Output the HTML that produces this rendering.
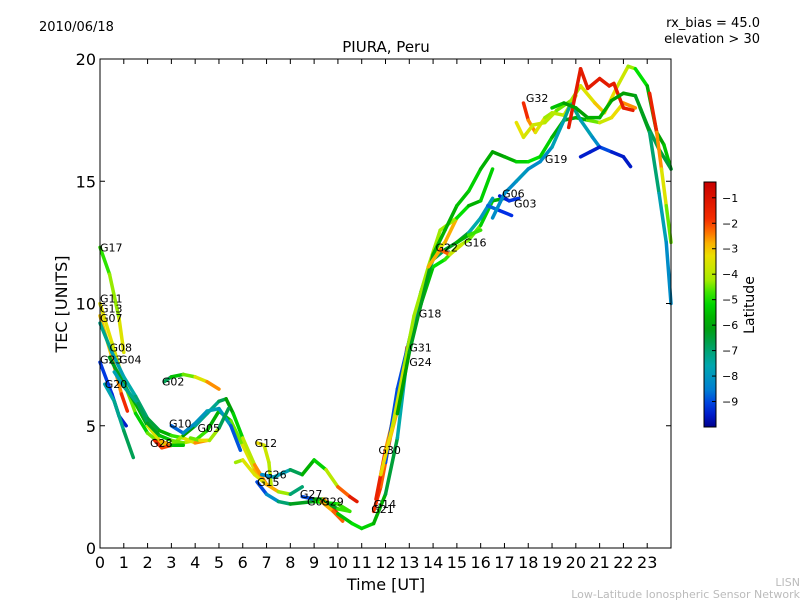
<!DOCTYPE html>
<html><head><meta charset="utf-8"><style>
body{margin:0;background:#fff;}
svg{display:block;font-family:"DejaVu Sans","Liberation Sans",sans-serif;}
</style></head><body>
<svg id="chart" width="800" height="600">
<text x="39" y="31" font-size="13">2010/06/18</text>
<text x="760" y="27" font-size="13" text-anchor="end">rx_bias = 45.0</text>
<text x="760" y="43" font-size="13" text-anchor="end">elevation &gt; 30</text>
<text x="386" y="52" font-size="15" text-anchor="middle">PIURA, Peru</text>
<g id="marks"></g>
<rect x="100" y="59" width="571" height="489" fill="none" stroke="#000" stroke-width="1"/>
<g id="axes"></g>
<text x="386" y="590" font-size="16" text-anchor="middle">Time [UT]</text>
<text transform="translate(67,304) rotate(-90)" font-size="16" text-anchor="middle">TEC [UNITS]</text>
<defs><linearGradient id="cbg" x1="0" y1="1" x2="0" y2="0"></linearGradient></defs>
<rect x="704" y="182" width="12" height="245" fill="url(#cbg)" stroke="#000"/>
<g id="cbticks"></g>
<text transform="translate(754,305) rotate(-90)" font-size="14" text-anchor="middle">Latitude</text>
<text x="800" y="586" font-size="11" fill="#bbb" text-anchor="end">LISN</text>
<text x="800" y="598" font-size="11" fill="#bbb" text-anchor="end">Low-Latitude Ionospheric Sensor Network</text>
</svg>
<script>
// Tracks: [time UT, TEC, latitude]
const trackNames = ["G17","G11","G13","G07","G23","G20","G08","G04","G02","G10","G05","G28","G12","G26","G15","G27","G09","G29","G14","G21","G30","G31","G24","G18","G22","G16","G06","G03","G32","G19","T1","T2","T3","T4","T5","T6","T7"];
const trackData = [
 [[0,12.3,-5],[0.4,11.2,-4.6],[0.8,9.4,-4],[1.0,8.0,-3]],
 [[0,10,-3.5],[0.5,8.4,-3.3],[1,6.8,-4],[1.5,5.5,-5],[2,4.7,-5.5],[2.5,4.3,-3.5],[3,4.2,-4],[4,4.4,-4],[4.5,4.8,-5.5],[5,5.6,-6],[5.5,5.2,-5],[6,4.2,-4],[6.5,3.2,-3],[7,2.6,-2.5]],
 [[0,9.5,-3],[0.5,7.8,-3],[0.9,6.3,-2],[1.15,5.6,-1.5]],
 [[0,9.2,-7],[0.5,8,-7.5],[1,7,-8],[1.5,6.2,-7],[2,5.3,-7],[2.5,4.8,-6],[3,4.6,-5.5],[3.5,4.5,-4],[4,4.3,-3],[4.5,4.4,-2]],
 [[0,7.6,-9],[0.5,6.3,-9.3],[0.8,5.4,-9.4],[1.1,5.0,-9.6]],
 [[0.2,6.7,-7.8],[0.6,6.0,-7.5],[1,4.8,-7],[1.4,3.7,-6.5]],
 [[0.4,7.8,-6.5],[1,6.7,-6],[1.5,5.9,-6.5],[2,5.0,-5],[2.5,4.4,-2],[3,4.2,-3.5],[3.5,4.6,-5],[4,5.0,-7],[4.5,5.5,-7.5],[5,6.0,-7],[5.3,6.1,-6.5],[5.6,5.5,-5.5],[6,4.5,-5],[6.5,3.4,-3],[7,2.6,-2]],
 [[0.6,7.2,-8],[1,6.6,-7.5],[1.6,5.9,-7],[2,5.1,-6.5],[2.5,4.6,-6],[3,4.4,-5],[3.5,4.3,-4]],
 [[2.7,6.8,-7.5],[3,7.0,-6],[3.5,7.1,-5],[4,7.0,-4],[4.5,6.8,-3],[5,6.5,-2]],
 [[3,5.0,-9],[3.5,4.7,-8.5],[4,5.1,-8],[4.5,5.6,-8],[5,5.7,-7.5],[5.5,5.0,-8.5],[5.9,4.0,-9.3]],
 [[3.8,4.5,-5],[4.2,4.4,-4],[4.6,4.4,-2.5],[5,4.9,-6],[5.4,5.7,-7.5]],
 [[2.3,4.4,-2],[2.6,4.1,-1.2],[3,4.2,-3],[3.5,4.2,-8]],
 [[6.6,4.3,-3],[6.9,4.2,-3.5],[7.1,3.5,-4],[7.2,2.5,-4]],
 [[6.8,3.0,-8.5],[7.3,2.9,-8],[8,3.2,-7.5],[8.5,3.0,-6],[9,3.6,-5.5],[9.5,3.2,-5],[10,2.5,-3],[10.5,2.1,-1.5],[10.8,1.9,-1]],
 [[6.6,2.7,-9],[7,2.2,-9],[7.5,1.9,-7.5],[8,1.8,-6.5],[9,1.9,-6],[10,1.8,-4],[10.5,1.5,-5.5]],
 [[8.5,2.1,-9],[9,2.0,-9],[9.4,2.0,-3],[9.8,1.6,-2],[10.2,1.2,-1]],
 [[9.2,2.0,-2],[9.6,1.8,-9],[10,1.6,-3.5],[10.5,1.5,-6]],
 [[9.3,1.9,-2.5],[9.8,1.5,-3],[10.2,1.1,-1.5]],
 [[11.5,1.5,-2],[11.8,2.5,-2],[12.2,4.5,-2.5],[12.6,6,-3],[12.9,8.2,-1.5]],
 [[10,1.4,-6],[10.6,1.0,-5],[11,0.8,-5],[11.5,1.0,-5.5],[12,2.2,-6],[12.5,4.5,-7],[13,8.5,-8],[13.5,10.5,-6],[14,12,-4],[14.5,12.5,-3],[15,13.5,-2.5]],
 [[11.6,2.0,-1],[12,4.0,-2],[12.5,6.0,-3],[13,8.5,-7],[13.5,10,-6],[14,11.5,-5],[14.5,11.8,-5],[15,12.3,-4.5],[15.5,12.6,-4],[16,13.2,-5],[16.5,14.2,-5.5],[17,14.3,-6]],
 [[12,3.5,-9],[12.5,6.5,-9],[13,8.5,-9],[13.5,10.5,-8],[14,11.8,-7],[14.5,12.2,-6.5],[15,12.5,-6],[15.5,12.9,-7],[16,13.5,-8],[16.5,14.3,-8]],
 [[11.8,3,-3],[12.3,5,-3.5],[12.8,7.5,-4],[13.2,9.5,-4.5],[13.8,11.5,-4],[14.3,13,-4.5],[15,13.5,-4],[15.5,14,-6],[16,14.2,-5.5],[16.5,15.5,-5]],
 [[12.5,5.5,-6],[13,8,-6],[13.5,10,-6.5],[14,12,-6],[14.5,13,-5.5],[15,14,-6],[15.5,14.6,-5],[16,15.5,-5.5],[16.5,16.2,-6],[17,16.0,-6],[17.5,15.8,-5.5],[18,15.8,-5],[18.5,16,-5],[19,16.8,-5.5],[19.5,17.5,-6],[20,17.6,-6.5],[20.5,17.5,-5],[21,17.4,-4],[21.5,17.6,-3.5],[22,18.2,-3],[22.5,18,-2]],
 [[13.8,11.5,-4],[14.3,12.2,-1.5],[14.7,12.0,-3],[15.2,12.4,-4.5]],
 [[15,12.5,-6],[15.5,12.8,-5.5],[16,13.0,-4]],
 [[16.3,14,-8.5],[16.8,13.8,-9],[17.3,13.6,-9.5]],
 [[16.8,14.4,-9.5],[17.2,14.2,-9.4],[17.6,14.3,-9]],
 [[17.8,18.2,-1.5],[18,17.5,-2],[18.3,17,-3],[18.7,17.6,-4],[19,17.8,-4.5],[19.5,17.7,-3.5],[20,18.5,-4]],
 [[16.5,13.5,-8],[17,14.5,-8.5],[17.5,15,-8],[18,15.5,-8],[18.5,15.8,-8.5],[19,16.4,-8],[19.5,17.5,-7.5],[19.8,18.2,-7],[20.2,17.5,-7.5],[20.7,16.8,-8],[21,16.4,-8.5],[21.5,16.2,-9.5],[22,16.0,-9.5],[22.3,15.6,-9.6]],
 [[20.2,16.0,-9.5],[20.6,16.2,-9.5],[21,16.4,-9.5]],
 [[17.5,17.4,-3.5],[17.8,16.8,-3.2],[18.2,17.3,-4],[18.7,17.4,-3.5],[19.2,17.9,-4.5],[19.8,18.3,-4.5],[20.2,18.9,-4],[20.8,18.2,-3],[21.2,17.8,-3],[21.7,18.8,-3.5],[22.2,19.7,-4],[22.5,19.6,-4.5],[23,18.9,-5.5],[23.4,17,-6],[23.7,16.5,-6],[24,15.5,-5]],
 [[19.7,17.2,-1.5],[20.2,19.6,-1],[20.5,18.8,-1.5],[21,19.2,-1],[21.4,18.9,-1.5],[21.6,19.0,-1.2],[22,18.0,-1.5],[22.4,17.9,-1.2]],
 [[19,18.0,-5],[19.5,18.2,-6],[20,18.0,-6],[20.5,17.6,-6],[21,17.6,-5.5],[21.5,18.3,-6],[22,18.6,-6],[22.5,18.5,-6],[23,17.3,-6.5],[23.5,16.3,-7],[24,15.5,-6]],
 [[23.1,18.6,-1],[23.4,17,-2],[23.6,15.5,-3],[23.8,14,-4],[24,12.5,-5]],
 [[22.7,18,-6],[23.1,17,-6.5],[23.5,14.5,-7.5],[23.8,12.5,-8],[24,10,-8.5]],
 [[5.7,3.5,-4.5],[6,3.6,-4],[6.5,3.0,-3],[7,2.6,-4],[7.5,2.3,-1.5],[8,2.2,-7],[8.5,2.5,-7]]
];
const labelNames = ["G17","G11","G13","G07","G23","G20","G08","G04","G02","G10","G05","G28","G12","G26","G15","G27","G09","G29","G14","G21","G30","G31","G24","G18","G22","G16","G06","G03","G32","G19"];
const labelT = [0,0,0,0,0,0.2,0.4,0.8,2.6,2.9,4.1,2.1,6.5,6.9,6.6,8.4,8.7,9.3,11.5,11.4,11.7,13,13,13.4,14.1,15.3,16.9,17.4,17.9,18.7];
const labelV = [12.3,10.2,9.8,9.4,7.7,6.7,8.2,7.7,6.8,5.1,4.9,4.3,4.3,3.0,2.7,2.2,1.9,1.9,1.8,1.6,4.0,8.2,7.6,9.6,12.3,12.5,14.5,14.1,18.4,15.9];
const xTicks = [...Array(24).keys()];
const yTicks = [0,5,10,15,20];
const cbTicks = [-1,-2,-3,-4,-5,-6,-7,-8,-9];

const NS="http://www.w3.org/2000/svg";
const X0=100,X1=671,Y0=548,Y1=59;
const xs=t=>X0+(t/24)*(X1-X0);
const ys=v=>Y0-(v/20)*(Y0-Y1);
const cbY=l=>427-(l+10)/(9.62)*245;
const stops=[[-10,[0,0,140]],[-9.3,[0,40,230]],[-8.5,[0,130,210]],[-7.5,[0,170,170]],[-6.8,[0,160,90]],[-6,[0,160,0]],[-5,[0,225,0]],[-4.2,[170,235,0]],[-3.3,[235,225,0]],[-2.6,[255,160,0]],[-2,[250,50,0]],[-0.4,[200,0,0]]];
function col(l){
 if(l<=stops[0][0])return `rgb(${stops[0][1]})`;
 for(let i=1;i<stops.length;i++){if(l<=stops[i][0]){const a=stops[i-1],b=stops[i],f=(l-a[0])/(b[0]-a[0]);
  return `rgb(${a[1].map((c,k)=>Math.round(c+(b[1][k]-c)*f)).join(',')})`;}}
 return `rgb(${stops[stops.length-1][1]})`;
}
function mk(tag,attrs,parent){const e=document.createElementNS(NS,tag);for(const k in attrs)e.setAttribute(k,attrs[k]);parent.appendChild(e);return e;}
const marks=document.getElementById('marks');
trackData.forEach((tr,ti)=>{
 const g=mk('g',{},marks);
 
 
 for(let i=1;i<tr.length;i++){
  const a=tr[i-1],b=tr[i];
  const s=mk('line',{x1:xs(a[0]),y1:ys(a[1]),x2:xs(b[0]),y2:ys(b[1]),stroke:col((a[2]+b[2])/2),'stroke-width':3.5,'stroke-linecap':'round'},g);
  
  
 }
});
labelNames.forEach((n,i)=>{
 const t=mk('text',{x:xs(labelT[i]),y:ys(labelV[i])+4,'font-size':11},marks);
 t.textContent=n;
 
 
});
const axes=document.getElementById('axes');
xTicks.forEach(v=>{
 const x=xs(v);
 const tk=mk('path',{d:`M${x} ${Y0}v-5M${x} ${Y1}v5`,stroke:'#000'},axes);
 
 
 const t=mk('text',{x:x,y:Y0+20,'font-size':16,'text-anchor':'middle'},axes);
 t.textContent=v;
 
 
});
yTicks.forEach(v=>{
 const y=ys(v);
 const tk=mk('path',{d:`M${X0} ${y}h5M${X1} ${y}h-5`,stroke:'#000'},axes);
 
 
 const t=mk('text',{x:X0-4,y:y+6,'font-size':16,'text-anchor':'end'},axes);
 t.textContent=v;
 
 
});
const grad=document.getElementById('cbg');
for(let i=0;i<=20;i++){const l=-10+i*(9.62/20);mk('stop',{offset:(i/20),'stop-color':col(l)},grad);}
const cbt=document.getElementById('cbticks');
cbTicks.forEach(v=>{
 const y=cbY(v);
 const tk=mk('path',{d:`M716 ${y}h-4`,stroke:'#000'},cbt);
 
 
 const t=mk('text',{x:722,y:y+4,'font-size':11},cbt);
 t.textContent='\u2212'+Math.abs(v);
 
 
});
</script>
</body></html>
